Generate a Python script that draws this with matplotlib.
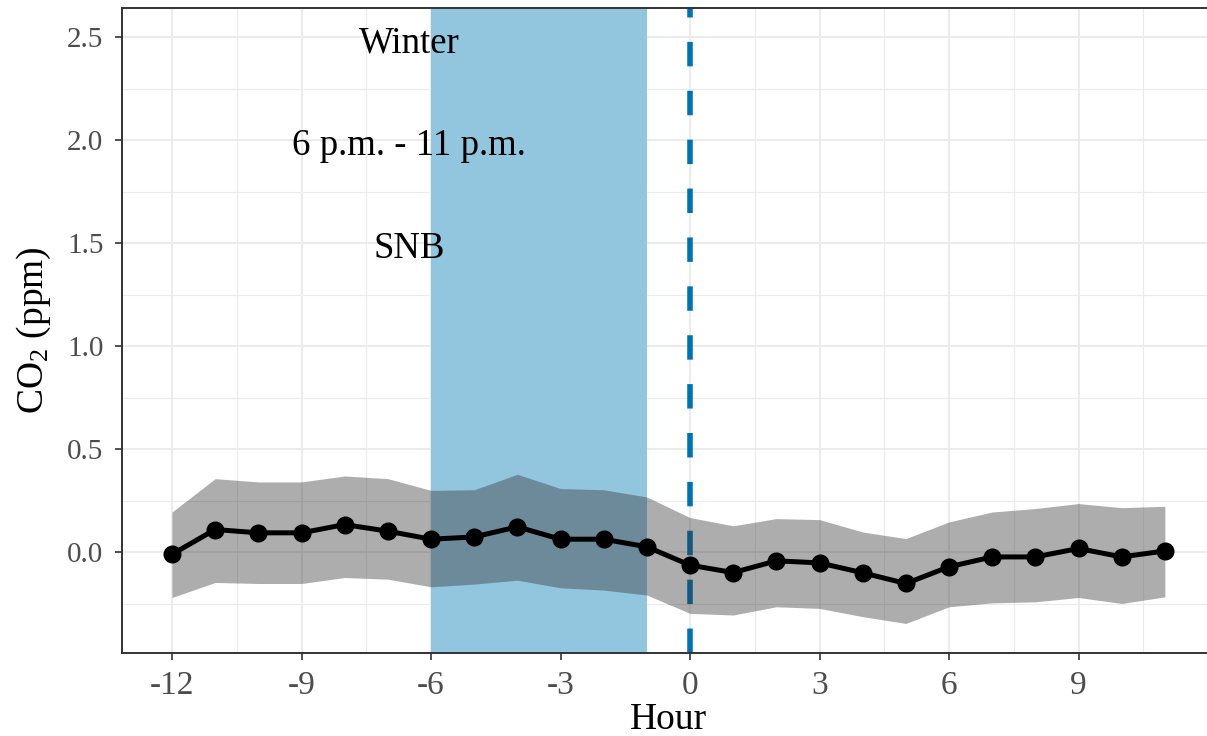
import numpy as np
import matplotlib
matplotlib.use("Agg")
import matplotlib.pyplot as plt

plt.rcParams["font.family"] = ["Liberation Serif", "DejaVu Serif"]
plt.rcParams["mathtext.fontset"] = "custom"
plt.rcParams["mathtext.rm"] = "Liberation Serif"
plt.rcParams["mathtext.it"] = "Liberation Serif:italic"

# Hourly mean CO2 anomaly with confidence band
hours = list(range(-12, 12))
co2_mean = [-0.01, 0.11, 0.094, 0.094, 0.134, 0.102, 0.063, 0.074, 0.123, 0.063, 0.063, 0.026,
            -0.063, -0.099, -0.042, -0.052, -0.100, -0.152, -0.071, -0.023, -0.023, 0.018, -0.023, 0.006]
co2_upper = [0.195, 0.357, 0.341, 0.341, 0.370, 0.357, 0.300, 0.303, 0.378, 0.309, 0.303, 0.268,
             0.168, 0.128, 0.163, 0.158, 0.098, 0.066, 0.147, 0.195, 0.212, 0.236, 0.216, 0.223]
co2_lower = [-0.220, -0.147, -0.152, -0.152, -0.123, -0.131, -0.168, -0.155, -0.136, -0.173, -0.184, -0.208,
             -0.297, -0.305, -0.265, -0.273, -0.313, -0.346, -0.265, -0.246, -0.241, -0.220, -0.249, -0.217]

window_start, window_end = -6, -1
event_hour = 0
annotations = [("Winter", 2.5), ("6 p.m. - 11 p.m.", 2.0), ("SNB", 1.5)]
annot_x = -6.5

x_major = [-12, -9, -6, -3, 0, 3, 6, 9]
x_minor = [-10.5, -7.5, -4.5, -1.5, 1.5, 4.5, 7.5, 10.5]
y_major = [0.0, 0.5, 1.0, 1.5, 2.0, 2.5]
y_minor = [-0.25, 0.25, 0.75, 1.25, 1.75, 2.25]

W, H = 1207, 736
fig = plt.figure(figsize=(W / 100, H / 100), dpi=100)
ax = fig.add_axes([121.5 / W, 1 - 652.7 / H, (1214.5 - 121.5) / W, (652.7 - 8) / H])

grid_col = "#EBEBEB"
for v in x_major + [12]:
    ax.axvline(v, color=grid_col, lw=1.4, zorder=0)
for v in x_minor:
    ax.axvline(v, color=grid_col, lw=0.8, zorder=0)
for v in y_major:
    ax.axhline(v, color=grid_col, lw=1.4, zorder=0)
for v in y_minor:
    ax.axhline(v, color=grid_col, lw=0.8, zorder=0)

ax.axvspan(window_start, window_end, color="#92C5DE", lw=0, zorder=1)
ax.axvline(event_hour, color="#0072B2", lw=4, dashes=(4.4, 4.4), zorder=2)
ax.fill_between(hours, co2_lower, co2_upper, color="#333333", alpha=0.4, lw=0, zorder=3)
ax.plot(hours, co2_mean, color="black", lw=3.6, marker="o", markersize=12, zorder=4)

for txt, yv in annotations:
    ax.annotate(txt, (annot_x, yv), xytext=(0, -4), textcoords="offset points",
                ha="center", va="center", fontsize=26.5, color="black", zorder=5)

ax.set_xlim(-13.17, 12.15)
ax.set_ylim(-0.488, 2.642)
ax.set_xticks(x_major)
ax.set_xticklabels([str(v) for v in x_major])
ax.set_yticks(y_major)
ax.set_yticklabels([f"{v:.1f}" for v in y_major])
ax.tick_params(axis="x", labelsize=24, colors="#333333", labelcolor="#4D4D4D", length=5, width=1.2, pad=8)
ax.tick_params(axis="y", labelsize=21, colors="#333333", labelcolor="#4D4D4D", length=5, width=1.2, pad=8)

for s in ax.spines.values():
    s.set_color("#333333")
    s.set_linewidth(1.4)

ax.set_xlabel("Hour", fontsize=27, labelpad=1)
ax.set_ylabel("CO$_\\mathrm{2}$ (ppm)", fontsize=27, labelpad=10)

fig.savefig("out.png", dpi=100)
